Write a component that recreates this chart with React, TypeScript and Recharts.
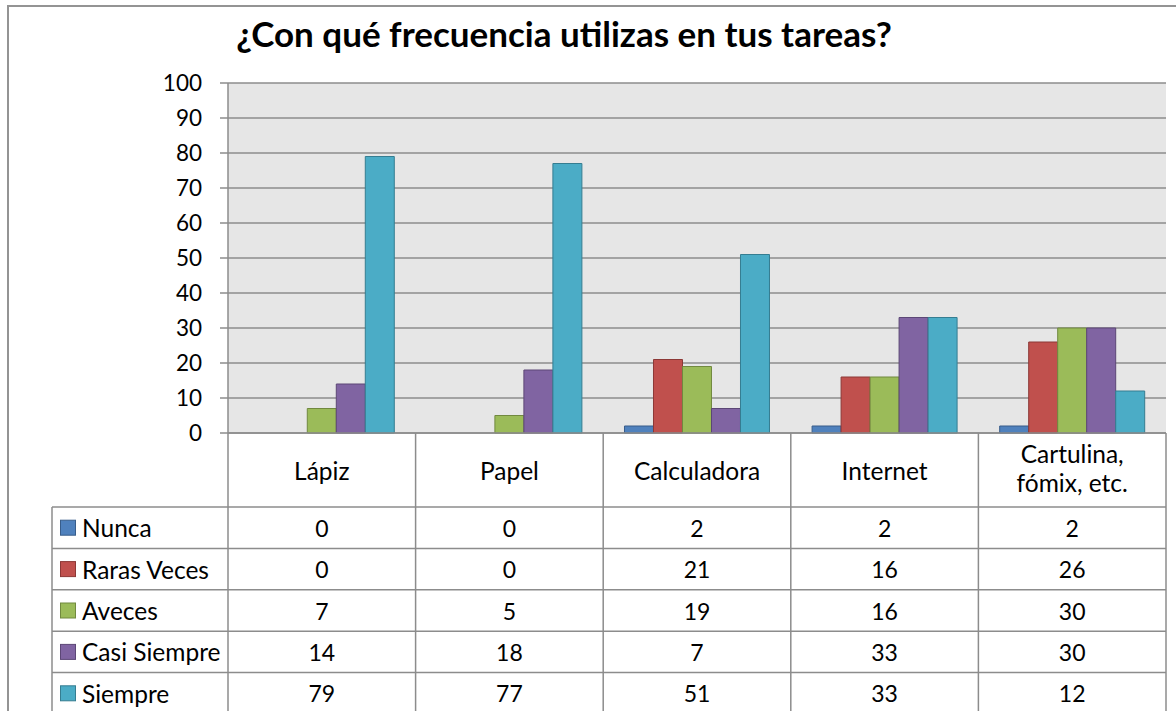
import { BarChart, Bar, XAxis, YAxis, CartesianGrid } from 'recharts';

const categories = ['Lápiz', 'Papel', 'Calculadora', 'Internet', 'Cartulina, fómix, etc.'];
const seriesNames = ['Nunca', 'Raras Veces', 'Aveces', 'Casi Siempre', 'Siempre'];
const nunca = [0, 0, 2, 2, 2];
const rarasVeces = [0, 0, 21, 16, 26];
const aveces = [7, 5, 19, 16, 30];
const casiSiempre = [14, 18, 7, 33, 30];
const siempre = [79, 77, 51, 33, 12];
const yTicks = [0, 10, 20, 30, 40, 50, 60, 70, 80, 90, 100];

const seriesValues = [nunca, rarasVeces, aveces, casiSiempre, siempre];
const fills = ['#4F81BD', '#C0504D', '#9BBB59', '#8064A2', '#4BACC6'];
const strokes = ['#385D8A', '#8C3836', '#71893F', '#5C4776', '#357D91'];

const FONT = 'Lato, "Open Sans", sans-serif';
const GRID = '#8c8c8c';
const PLOT_LEFT = 228;
const PLOT_RIGHT = 1166;
const PLOT_TOP = 83;
const PLOT_BOTTOM = 433;
const TABLE_LEFT = 52;
const HEADER_BOTTOM = 507;
const ROW_H = 41.4;
const COL_W = (PLOT_RIGHT - PLOT_LEFT) / categories.length;
const LABEL_SIZE = 24.5;
const NUM_SIZE = 23;

const chartData = categories.map((name, i) => {
  const row: Record<string, any> = { name };
  seriesNames.forEach((s, k) => {
    row[s] = seriesValues[k][i];
  });
  return row;
});

// category labels sit in the header row of the data table
function CategoryTick(props: any) {
  const { x, y, payload } = props;
  const label: string = payload.value;
  const cut = label.indexOf(', ');
  const lines = cut > 0 ? [label.slice(0, cut + 1), label.slice(cut + 2)] : [label];
  const centers = lines.length === 1 ? [37] : [20, 49];
  return (
    <g>
      {lines.map((l, i) => (
        <text key={i} x={x} y={y + centers[i]} textAnchor="middle" dominantBaseline="central"
          fontSize={LABEL_SIZE} fontFamily={FONT} fill="#000">
          {l}
        </text>
      ))}
    </g>
  );
}

export default function App() {
  const colX = categories.map((_, i) => PLOT_LEFT + i * COL_W);
  const rowY = seriesNames.map((_, i) => HEADER_BOTTOM + i * ROW_H);

  return (
    <div style={{ position: 'absolute', left: 0, top: 0, width: 1176, height: 711, overflow: 'hidden', background: '#fff' }}>
      <div style={{ position: 'absolute', left: 7, top: 5, width: 1200, height: 800, border: '2px solid #949494' }} />
      <div style={{ position: 'absolute', left: 0, top: 0 }}>
        <BarChart width={1176} height={711} data={chartData}
          margin={{ top: PLOT_TOP, right: 1176 - PLOT_RIGHT, bottom: 711 - PLOT_BOTTOM - 74, left: PLOT_LEFT - 60 }}
          barCategoryGap="11.35%" barGap={0}>
          <CartesianGrid vertical={false} stroke={GRID} strokeWidth={1.5} fill="#e6e6e6" fillOpacity={1} />
          <XAxis dataKey="name" height={74} tickSize={0} tickMargin={0} tickLine={false}
            axisLine={{ stroke: GRID, strokeWidth: 1.5 }} tick={<CategoryTick />} interval={0} />
          <YAxis width={60} domain={[0, 100]} ticks={yTicks} interval={0} tickSize={8} tickMargin={18}
            axisLine={{ stroke: GRID, strokeWidth: 1.5 }} tickLine={{ stroke: GRID, strokeWidth: 1.5 }}
            tick={{ fill: '#000', fontSize: 22.5, fontFamily: FONT }} />
          {seriesNames.map((s, k) => (
            <Bar key={s} dataKey={s} fill={fills[k]} stroke={strokes[k]} strokeWidth={1} isAnimationActive={false} />
          ))}
        </BarChart>
      </div>
      <svg width={1176} height={711} style={{ position: 'absolute', left: 0, top: 0, pointerEvents: 'none' }}>
        <text x={564} y={47} textAnchor="middle" fontSize={35} fontWeight="bold" fontFamily={FONT} fill="#000">
          ¿Con qué frecuencia utilizas en tus tareas?
        </text>
        {/* data table grid */}
        {rowY.map((y, i) => (
          <line key={'h' + i} x1={TABLE_LEFT} x2={PLOT_RIGHT} y1={y} y2={y} stroke={GRID} strokeWidth={1.5} />
        ))}
        <line x1={TABLE_LEFT} x2={TABLE_LEFT} y1={HEADER_BOTTOM} y2={720} stroke={GRID} strokeWidth={1.5} />
        {[...colX, PLOT_RIGHT].map((x, i) => (
          <line key={'v' + i} x1={x} x2={x} y1={PLOT_BOTTOM} y2={720} stroke={GRID} strokeWidth={1.5} />
        ))}
        {seriesNames.map((s, k) => (
          <g key={s}>
            <rect x={60.5} y={rowY[k] + ROW_H / 2 - 7.5} width={15} height={15} fill={fills[k]} stroke={strokes[k]} strokeWidth={1} />
            <text x={82} y={rowY[k] + ROW_H / 2} dominantBaseline="central" fontSize={LABEL_SIZE} fontFamily={FONT} fill="#000">{s}</text>
            {seriesValues[k].map((v, i) => (
              <text key={i} x={colX[i] + COL_W / 2} y={rowY[k] + ROW_H / 2} textAnchor="middle" dominantBaseline="central"
                fontSize={NUM_SIZE} fontFamily={FONT} fill="#000">{v}</text>
            ))}
          </g>
        ))}
      </svg>
    </div>
  );
}
